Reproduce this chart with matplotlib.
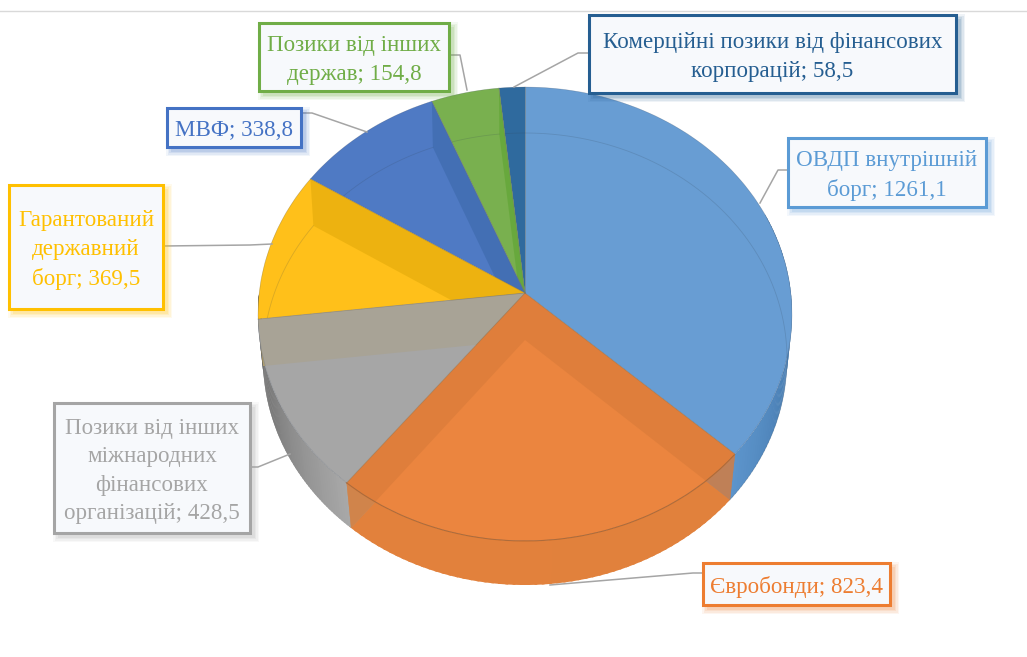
import numpy as np
import matplotlib
matplotlib.use('Agg')
import matplotlib.pyplot as plt
from matplotlib.patches import Rectangle
from matplotlib.colors import to_rgb

# slices clockwise from the top
categories = ['ОВДП внутрішній\nборг', 'Євробонди', 'Позики від інших\nміжнародних\nфінансових\nорганізацій',
              'Гарантований\nдержавний\nборг', 'МВФ', 'Позики від інших\nдержав',
              'Комерційні позики від фінансових\nкорпорацій']
values = [1261.1, 823.4, 428.5, 369.5, 338.8, 154.8, 58.5]

face_colors = ['#689DD3', '#EB853F', '#A6A6A6', '#FFC01A', '#4F7AC4', '#79B04F', '#2F6A9E']
wall_colors = ['#5B8FC4', '#DA7C3A', '#A9A290', '#E6AD0C', '#3F6BAE', '#62A636', '#2C6296']
border_colors = ['#5B9BD5', '#ED7D31', '#A5A5A5', '#FFC000', '#4472C4', '#70AD47', '#255E91']

# label boxes in pixels: x0, y0, x1, y1
boxes = [(788, 138, 986, 207), (703, 563, 890, 605), (54, 403, 250, 533), (9, 185, 163, 309),
         (167, 108, 301, 147), (259, 23, 449, 91), (589, 15, 956, 93)]
# leader lines in pixels
leaders = [[(788, 170), (778, 170), (760, 203)],
           [(703, 573), (693, 573), (550, 585)],
           [(250, 467), (258, 467), (290, 454)],
           [(163, 246), (250, 245), (272, 244)],
           [(301, 113), (312, 113), (367, 132)],
           [(449, 55), (460, 55), (467, 90)],
           [(589, 53), (578, 53), (514, 87)]]

plt.rcParams['font.family'] = ['Liberation Serif', 'DejaVu Serif']

fig = plt.figure(figsize=(10.27, 6.57), dpi=100)
ax = fig.add_axes([0, 0, 1, 1])
ax.set_xlim(0, 1027)
ax.set_ylim(657, 0)
ax.axis('off')

cx = 525
top_disc = (314, 267, 227, 21 / 227)
low_disc = (359, 262, 226, 19 / 226)


def rim(theta, disc):
    # perspective view of a circle: the centre lands on the apex, not the ellipse centre
    cy, rx, ry, a = disc
    u = np.sin(theta)
    v = -np.cos(theta)
    d = 1 - a * v
    return cx + rx * u * np.sqrt(1 - a * a) / d, cy + ry * (v - a) / d


def apex(disc):
    return cx, disc[0] - disc[2] * disc[3]


def arc(t1, t2, disc):
    return rim(np.linspace(t1, t2, 80), disc)


edges = np.concatenate([[0], np.cumsum(values)]) / sum(values) * 2 * np.pi

ax.plot([0, 1027], [11, 11], color='#D9D9D9', lw=1, zorder=1)


def side_wall(t1, t2, c1, c2, z):
    ts = np.linspace(t1, t2, 60)
    c1 = np.array(to_rgb(c1))
    c2 = np.array(to_rgb(c2))
    for i in range(len(ts) - 1):
        xa, ya = arc(ts[i], ts[i + 1] + 0.01, top_disc)
        xb, yb = arc(ts[i], ts[i + 1] + 0.01, low_disc)
        f = i / (len(ts) - 2)
        ax.fill(np.r_[xa, xb[::-1]], np.r_[ya, yb[::-1]], color=c1 + (c2 - c1) * f, lw=0, zorder=z)


side_wall(edges[0] + 1.2, edges[1], '#2F5F90', '#5C94CB', 2)
side_wall(edges[1], edges[2], '#E1813C', '#E2813C', 2)
side_wall(edges[2], edges[3], '#A8A8A8', '#666666', 2)
side_wall(edges[3], edges[3] + 0.1, '#666666', '#555555', 2)

draw_order = [0, 6, 5, 4, 3, 2, 1]
z = 3
for i in draw_order:
    t1, t2 = edges[i], edges[i + 1]
    x, y = arc(t1, t2, top_disc)
    ax0, ay0 = apex(top_disc)
    ax1, ay1 = apex(low_disc)
    ax.fill(np.r_[ax0, x], np.r_[ay0, y], color=face_colors[i], lw=0, zorder=z)
    z += 1
    # the two straight walls of the slice, seen through it
    for t in (t1, t2):
        xu, yu = rim(t, top_disc)
        xl, yl = rim(t, low_disc)
        ax.fill([ax0, xu, xl, ax1], [ay0, yu, yl, ay1], color=wall_colors[i], alpha=0.7, lw=0, zorder=z)
    z += 1
    if i not in (1, 2):
        xl, yl = arc(t1, t2, low_disc)
        ax.plot(xl, yl, color='#30404f', lw=0.6, alpha=0.18, zorder=z)
    z += 1

# front edge of the top face and seams between slices
x, y = arc(edges[0] + 1.9, edges[2], top_disc)
mask = x < 736
ax.plot(x[mask], y[mask], color='#C56F2E', lw=0.8, zorder=z)
for t in edges[:-1]:
    xu, yu = rim(t, top_disc)
    ax.plot([cx, xu], [apex(top_disc)[1], yu], color='#7d7460', lw=0.6, alpha=0.5, zorder=z)
x, y = arc(0, 2 * np.pi, top_disc)
ax.plot(x, y, color='#556070', lw=0.5, alpha=0.3, zorder=z)

# labels
for i, (x0, y0, x1, y1) in enumerate(boxes):
    pts = np.array(leaders[i])
    ax.plot(pts[:, 0], pts[:, 1], color='#A5A5A5', lw=1.1, zorder=30)
    for grow, al in ((5, 0.05), (3.5, 0.07), (2, 0.09), (0.5, 0.12)):
        ax.add_patch(Rectangle((x0 + 4 - grow, y0 + 4 - grow), x1 - x0 + 2 * grow, y1 - y0 + 2 * grow,
                               facecolor=border_colors[i], edgecolor='none', alpha=al + 0.02, zorder=31))
    ax.add_patch(Rectangle((x0, y0), x1 - x0, y1 - y0, facecolor='#F7F9FC', edgecolor=border_colors[i],
                           lw=2.2, zorder=32))
    value = f'{values[i]}'.replace('.', ',')
    ax.text((x0 + x1) / 2, (y0 + y1) / 2 + 3, f'{categories[i]}; {value}', color=border_colors[i], fontsize=16.6,
            ha='center', va='center', linespacing=1.46, zorder=33)

fig.savefig('out.png', dpi=100)
